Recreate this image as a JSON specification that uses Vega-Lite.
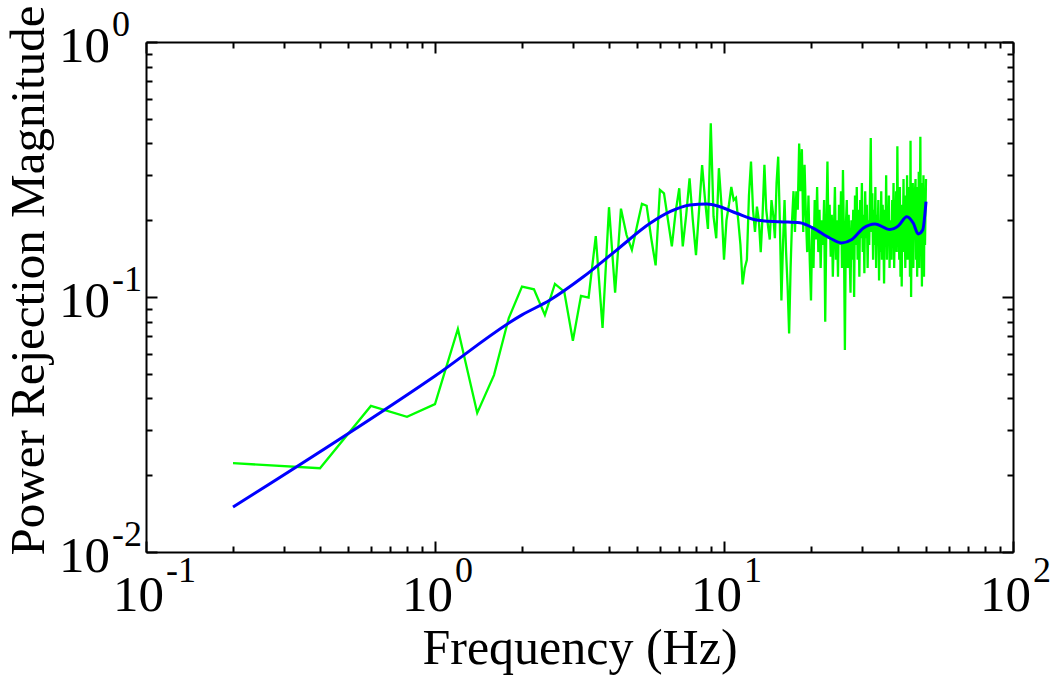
{
  "$schema": "https://vega.github.io/schema/vega-lite/v6.json",
  "width": 867,
  "height": 510,
  "autosize": {"type": "none"},
  "padding": {"left": 146, "top": 42, "right": 37, "bottom": 130},
  "background": "white",
  "datasets": {
    "green": [
      {"f":0.2,"v":0.0223},{"f":0.4,"v":0.0213},{"f":0.6,"v":0.0374},{"f":0.8,"v":0.0339},{"f":1.0,"v":0.038},
      {"f":1.2,"v":0.0749},{"f":1.4,"v":0.0351},{"f":1.6,"v":0.0494},{"f":1.8,"v":0.0827},{"f":2.0,"v":0.1098},
      {"f":2.2,"v":0.1072},{"f":2.4,"v":0.085},{"f":2.6,"v":0.1125},{"f":2.8,"v":0.105},{"f":3.0,"v":0.0674},
      {"f":3.2,"v":0.101},{"f":3.4,"v":0.0994},{"f":3.6,"v":0.1734},{"f":3.8,"v":0.0756},
      {"f":4.0,"v":0.225},{"f":4.2,"v":0.104},{"f":4.4,"v":0.222},{"f":4.6,"v":0.175},{"f":4.8,"v":0.153},
      {"f":5.0,"v":0.19},{"f":5.2,"v":0.232},{"f":5.4,"v":0.228},{"f":5.6,"v":0.17},{"f":5.8,"v":0.133},
      {"f":6.0,"v":0.263},{"f":6.2,"v":0.255},{"f":6.4,"v":0.2},{"f":6.6,"v":0.158},{"f":6.8,"v":0.215},
      {"f":7.0,"v":0.267},{"f":7.2,"v":0.158},{"f":7.4,"v":0.21},{"f":7.6,"v":0.292},{"f":7.8,"v":0.2},
      {"f":8.0,"v":0.146},{"f":8.2,"v":0.22},{"f":8.4,"v":0.329},{"f":8.6,"v":0.24},{"f":8.8,"v":0.185},
      {"f":9.0,"v":0.48},{"f":9.2,"v":0.207},{"f":9.4,"v":0.17},{"f":9.6,"v":0.32},{"f":9.8,"v":0.23},
      {"f":10.0,"v":0.14},{"f":10.2,"v":0.2},{"f":10.4,"v":0.23},{"f":10.6,"v":0.27},{"f":10.8,"v":0.24},
      {"f":11.0,"v":0.245},{"f":11.2,"v":0.2},{"f":11.4,"v":0.16},{"f":11.6,"v":0.112},{"f":11.8,"v":0.13},
      {"f":12.0,"v":0.14},{"f":12.2,"v":0.25},{"f":12.4,"v":0.34},{"f":12.6,"v":0.22},{"f":12.8,"v":0.18},
      {"f":13.0,"v":0.226},{"f":13.2,"v":0.2},{"f":13.4,"v":0.15},{"f":13.6,"v":0.21},{"f":13.8,"v":0.33},
      {"f":14.0,"v":0.22},{"f":14.2,"v":0.19},{"f":14.4,"v":0.168},{"f":14.6,"v":0.24},{"f":14.8,"v":0.21},
      {"f":15.0,"v":0.17},{"f":15.2,"v":0.28},{"f":15.4,"v":0.355},{"f":15.6,"v":0.2},{"f":15.8,"v":0.097},
      {"f":16.0,"v":0.16},{"f":16.2,"v":0.24},{"f":16.4,"v":0.15},{"f":16.6,"v":0.11},{"f":16.8,"v":0.072},
      {"f":17.0,"v":0.13},{"f":17.2,"v":0.2},{"f":17.4,"v":0.26},{"f":17.6,"v":0.18},{"f":17.8,"v":0.26},
      {"f":18.0,"v":0.22},
      {"f":18.2,"v":0.4},{"f":18.4,"v":0.26},{"f":18.6,"v":0.38},{"f":18.8,"v":0.18},{"f":19.0,"v":0.33},
      {"f":19.2,"v":0.21},{"f":19.4,"v":0.15},{"f":19.6,"v":0.25},{"f":19.8,"v":0.14},{"f":20.0,"v":0.097},
      {"f":20.2,"v":0.19},{"f":20.4,"v":0.13},{"f":20.6,"v":0.24},{"f":20.8,"v":0.168},{"f":21.0,"v":0.27},
      {"f":21.2,"v":0.15},{"f":21.4,"v":0.22},{"f":21.6,"v":0.13},{"f":21.8,"v":0.2},{"f":22.0,"v":0.16},
      {"f":22.2,"v":0.24},{"f":22.4,"v":0.08},{"f":22.6,"v":0.19},{"f":22.8,"v":0.34},{"f":23.0,"v":0.17},
      {"f":23.2,"v":0.23},{"f":23.4,"v":0.144},{"f":23.6,"v":0.21},{"f":23.8,"v":0.12},{"f":24.0,"v":0.18},
      {"f":24.2,"v":0.27},{"f":24.4,"v":0.14},{"f":24.6,"v":0.2},{"f":24.8,"v":0.12},{"f":25.0,"v":0.23},
      {"f":25.2,"v":0.16},{"f":25.4,"v":0.26},{"f":25.6,"v":0.13},{"f":25.8,"v":0.315},{"f":26.0,"v":0.17},
      {"f":26.2,"v":0.062},{"f":26.4,"v":0.19},{"f":26.6,"v":0.24},{"f":26.8,"v":0.13},{"f":27.0,"v":0.21},
      {"f":27.2,"v":0.15},{"f":27.4,"v":0.104},{"f":27.6,"v":0.2},{"f":27.8,"v":0.14},{"f":28.0,"v":0.22},
      {"f":28.2,"v":0.1},{"f":28.4,"v":0.25},{"f":28.6,"v":0.16},{"f":28.8,"v":0.27},{"f":29.0,"v":0.14},
      {"f":29.2,"v":0.22},{"f":29.4,"v":0.12},{"f":29.6,"v":0.24},{"f":29.8,"v":0.17},{"f":30.0,"v":0.28},
      {"f":30.2,"v":0.15},{"f":30.4,"v":0.21},{"f":30.6,"v":0.124},{"f":30.8,"v":0.26},{"f":31.0,"v":0.17},
      {"f":31.2,"v":0.23},{"f":31.4,"v":0.13},{"f":31.6,"v":0.2},{"f":31.8,"v":0.16},{"f":32.0,"v":0.25},
      {"f":32.2,"v":0.42},{"f":32.4,"v":0.18},{"f":32.6,"v":0.255},{"f":32.8,"v":0.14},{"f":33.0,"v":0.22},
      {"f":33.2,"v":0.16},{"f":33.4,"v":0.27},{"f":33.6,"v":0.13},{"f":33.8,"v":0.21},{"f":34.0,"v":0.17},
      {"f":34.2,"v":0.24},{"f":34.4,"v":0.116},{"f":34.6,"v":0.2},{"f":34.8,"v":0.15},{"f":35.0,"v":0.26},
      {"f":35.2,"v":0.14},{"f":35.4,"v":0.23},{"f":35.6,"v":0.18},{"f":35.8,"v":0.113},{"f":36.0,"v":0.22},
      {"f":36.2,"v":0.16},{"f":36.4,"v":0.3},{"f":36.6,"v":0.14},{"f":36.8,"v":0.21},{"f":37.0,"v":0.17},
      {"f":37.2,"v":0.25},{"f":37.4,"v":0.13},{"f":37.6,"v":0.2},{"f":37.8,"v":0.15},{"f":38.0,"v":0.14},
      {"f":38.2,"v":0.24},{"f":38.4,"v":0.16},{"f":38.6,"v":0.28},{"f":38.8,"v":0.13},{"f":39.0,"v":0.21},
      {"f":39.2,"v":0.17},{"f":39.4,"v":0.26},{"f":39.6,"v":0.15},{"f":39.8,"v":0.39},{"f":40.0,"v":0.18},
      {"f":40.2,"v":0.22},{"f":40.4,"v":0.14},{"f":40.6,"v":0.27},{"f":40.8,"v":0.12},{"f":41.0,"v":0.2},
      {"f":41.2,"v":0.11},{"f":41.4,"v":0.23},{"f":41.6,"v":0.16},{"f":41.8,"v":0.29},{"f":42.0,"v":0.15},
      {"f":42.2,"v":0.21},{"f":42.4,"v":0.13},{"f":42.6,"v":0.25},{"f":42.8,"v":0.17},{"f":43.0,"v":0.3},
      {"f":43.2,"v":0.14},{"f":43.4,"v":0.22},{"f":43.6,"v":0.18},{"f":43.8,"v":0.27},{"f":44.0,"v":0.12},
      {"f":44.2,"v":0.41},{"f":44.4,"v":0.1},{"f":44.6,"v":0.24},{"f":44.8,"v":0.15},{"f":45.0,"v":0.28},
      {"f":45.2,"v":0.13},{"f":45.4,"v":0.21},{"f":45.6,"v":0.17},{"f":45.8,"v":0.26},{"f":46.0,"v":0.29},
      {"f":46.2,"v":0.14},{"f":46.4,"v":0.23},{"f":46.6,"v":0.12},{"f":46.8,"v":0.27},{"f":47.0,"v":0.16},
      {"f":47.2,"v":0.31},{"f":47.4,"v":0.13},{"f":47.6,"v":0.2},{"f":47.8,"v":0.425},{"f":48.0,"v":0.15},
      {"f":48.2,"v":0.25},{"f":48.4,"v":0.11},{"f":48.6,"v":0.28},{"f":48.8,"v":0.14},{"f":49.0,"v":0.3},
      {"f":49.2,"v":0.12},{"f":49.4,"v":0.26},{"f":49.6,"v":0.16},{"f":49.8,"v":0.22},{"f":50.0,"v":0.29}
    ],
    "blue": [
      {"f":0.2,"v":0.015},{"f":1.0,"v":0.049},{"f":2.0,"v":0.0851},{"f":2.5,"v":0.0973},{"f":3.26,"v":0.12},
      {"f":4.25,"v":0.1528},{"f":5.55,"v":0.1945},{"f":6.5,"v":0.216},{"f":7.62,"v":0.2296},{"f":8.71,"v":0.2316},
      {"f":9.68,"v":0.226},{"f":11.06,"v":0.213},{"f":12.97,"v":0.2004},{"f":15.6,"v":0.1973},{"f":18.3,"v":0.1956},
      {"f":20.4,"v":0.1859},{"f":23.3,"v":0.17},{"f":25.5,"v":0.163},{"f":27.7,"v":0.168},{"f":30.3,"v":0.186},
      {"f":33.3,"v":0.1933},{"f":37.5,"v":0.184},{"f":40.1,"v":0.19},{"f":42.9,"v":0.2064},{"f":45.2,"v":0.1945},
      {"f":47.0,"v":0.1767},{"f":48.7,"v":0.183},{"f":50.0,"v":0.2365}
    ],
    "xlab": [{"f":0.1,"e":"-1"},{"f":1,"e":"0"},{"f":10,"e":"1"},{"f":100,"e":"2"}],
    "ylab": [{"v":0.01,"e":"-2"},{"v":0.1,"e":"-1"},{"v":1,"e":"0"}]
  },
  "layer": [
    {
      "data": {"name": "green"},
      "mark": {"type": "line", "color": "#00ff00", "strokeWidth": 2.3, "clip": true},
      "encoding": {
        "x": {"field": "f", "type": "quantitative",
          "scale": {"type": "log", "domain": [0.1, 100], "nice": false},
          "axis": {"orient": "bottom", "title": "Frequency (Hz)", "titlePadding": 70,
            "values": [0.1,0.2,0.3,0.4,0.5,0.6,0.7,0.8,0.9,1,2,3,4,5,6,7,8,9,10,20,30,40,50,60,70,80,90,100],
            "tickSize": {"condition": {"test": "indexof([0.1,1,10,100], datum.value) >= 0", "value": -11}, "value": -6}}},
        "y": {"field": "v", "type": "quantitative",
          "scale": {"type": "log", "domain": [0.01, 1], "nice": false},
          "axis": {"orient": "left", "title": "Power Rejection Magnitude", "titlePadding": 92, "titleFontSize": 49, "titleY": 238,
            "values": [0.01,0.02,0.03,0.04,0.05,0.06,0.07,0.08,0.09,0.1,0.2,0.3,0.4,0.5,0.6,0.7,0.8,0.9,1],
            "tickSize": {"condition": {"test": "indexof([0.01,0.1,1], datum.value) >= 0", "value": -11}, "value": -6}}}
      }
    },
    {
      "data": {"name": "blue"},
      "mark": {"type": "line", "color": "#0000ff", "strokeWidth": 3, "interpolate": "monotone", "clip": true},
      "encoding": {
        "x": {"field": "f", "type": "quantitative",
          "scale": {"type": "log", "domain": [0.1, 100], "nice": false},
          "axis": {"orient": "top", "title": null,
            "values": [0.1,0.2,0.3,0.4,0.5,0.6,0.7,0.8,0.9,1,2,3,4,5,6,7,8,9,10,20,30,40,50,60,70,80,90,100],
            "tickSize": {"condition": {"test": "indexof([0.1,1,10,100], datum.value) >= 0", "value": -11}, "value": -6}}},
        "y": {"field": "v", "type": "quantitative",
          "scale": {"type": "log", "domain": [0.01, 1], "nice": false},
          "axis": {"orient": "right", "title": null,
            "values": [0.01,0.02,0.03,0.04,0.05,0.06,0.07,0.08,0.09,0.1,0.2,0.3,0.4,0.5,0.6,0.7,0.8,0.9,1],
            "tickSize": {"condition": {"test": "indexof([0.01,0.1,1], datum.value) >= 0", "value": -11}, "value": -6}}}
      }
    },
    {
      "data": {"name": "xlab"},
      "mark": {"type": "text", "align": "right", "baseline": "alphabetic", "dx": 18, "dy": 59, "font": "Liberation Serif", "fontSize": 51, "color": "black"},
      "encoding": {
        "x": {"field": "f", "type": "quantitative", "axis": null},
        "y": {"datum": 0.01, "type": "quantitative", "axis": null},
        "text": {"value": "10"}
      }
    },
    {
      "data": {"name": "xlab"},
      "mark": {"type": "text", "align": "left", "baseline": "alphabetic", "dx": 20, "dy": 30, "font": "Liberation Serif", "fontSize": 36, "color": "black"},
      "encoding": {
        "x": {"field": "f", "type": "quantitative", "axis": null},
        "y": {"datum": 0.01, "type": "quantitative", "axis": null},
        "text": {"field": "e"}
      }
    },
    {
      "data": {"name": "ylab"},
      "mark": {"type": "text", "align": "right", "baseline": "alphabetic", "dx": -36, "dy": 20, "font": "Liberation Serif", "fontSize": 51, "color": "black"},
      "encoding": {
        "x": {"datum": 0.1, "type": "quantitative", "axis": null},
        "y": {"field": "v", "type": "quantitative", "axis": null},
        "text": {"value": "10"}
      }
    },
    {
      "data": {"name": "ylab"},
      "mark": {"type": "text", "align": "left", "baseline": "alphabetic", "dx": -34, "dy": -6, "font": "Liberation Serif", "fontSize": 36, "color": "black"},
      "encoding": {
        "x": {"datum": 0.1, "type": "quantitative", "axis": null},
        "y": {"field": "v", "type": "quantitative", "axis": null},
        "text": {"field": "e"}
      }
    }
  ],
  "resolve": {"axis": {"x": "independent", "y": "independent"}},
  "config": {
    "view": {"stroke": null},
    "axis": {
      "grid": false, "labels": false,
      "domainColor": "black", "domainWidth": 2,
      "tickColor": "black", "tickWidth": 2,
      "titleFont": "Liberation Serif", "titleFontSize": 50, "titleFontWeight": "normal", "titleColor": "black"
    }
  }
}
